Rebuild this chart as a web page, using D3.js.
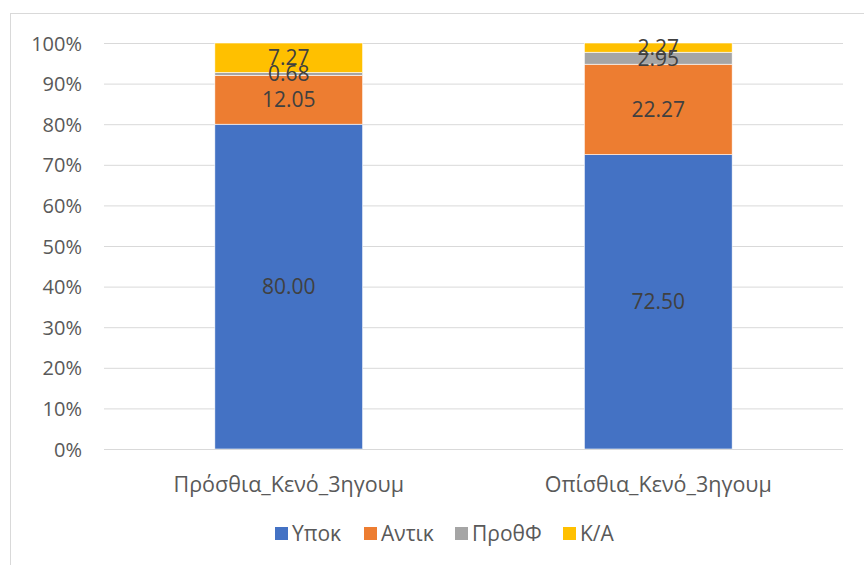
<!DOCTYPE html>
<html>
<head>
<meta charset="utf-8">
<script src="https://cdn.jsdelivr.net/npm/d3@7"></script>
<style>
  html, body { margin: 0; padding: 0; background: #fff; }
  svg { display: block; }
  text { font-family: "Open Sans", "Noto Sans", sans-serif; }
</style>
</head>
<body>
<svg id="chart" width="864" height="565"></svg>
<script>
// Categories and series (percent shares per category)
const categories = ["Πρόσθια_Κενό_3ηγουμ", "Οπίσθια_Κενό_3ηγουμ"];
const seriesNames = ["Υποκ", "Αντικ", "ΠροθΦ", "Κ/Α"];
const seriesColors = ["#4472C4", "#ED7D31", "#A5A5A5", "#FFC000"];
const valuesYpok  = [80.00, 72.50];
const valuesAntik = [12.05, 22.27];
const valuesProth = [0.68, 2.95];
const valuesKA    = [7.27, 2.27];
const yTicks = [0, 0.1, 0.2, 0.3, 0.4, 0.5, 0.6, 0.7, 0.8, 0.9, 1.0];

const seriesValues = [valuesYpok, valuesAntik, valuesProth, valuesKA];

// Table for d3.stack, normalised to 100% per category
const rows = categories.map((c, i) => {
  const r = { category: c };
  seriesNames.forEach((s, k) => { r[s] = seriesValues[k][i]; });
  return r;
});

const svg = d3.select("#chart");
const plot = { left: 104, right: 843, top: 43, bottom: 449 };

// Chart area frame
svg.append("rect")
  .attr("x", 10.5).attr("y", 13.5)
  .attr("width", 900).attr("height", 600)
  .attr("fill", "#fff").attr("stroke", "#D9D9D9").attr("stroke-width", 1);

const x = d3.scaleBand()
  .domain(categories)
  .range([plot.left, plot.right])
  .paddingInner(0.6)
  .paddingOuter(0.3);

const y = d3.scaleLinear().domain([0, 1]).range([plot.bottom, plot.top]);

// Gridlines + tick labels
const yAxis = d3.axisLeft(y)
  .tickValues(yTicks)
  .tickFormat(d3.format(".0%"))
  .tickSize(-(plot.right - plot.left))
  .tickPadding(22);

const gy = svg.append("g")
  .attr("transform", `translate(${plot.left},0)`)
  .call(yAxis);
gy.select(".domain").remove();
gy.selectAll(".tick line").attr("stroke", "#D9D9D9").attr("stroke-width", 1);
gy.selectAll(".tick text")
  .attr("fill", "#595959")
  .style("font-size", "20px")
  .attr("dy", "0.35em");

const stack = d3.stack().keys(seriesNames).offset(d3.stackOffsetExpand);
const stacked = stack(rows);

const layers = svg.append("g").selectAll("g")
  .data(stacked)
  .join("g")
  .attr("fill", (d, i) => seriesColors[i]);

layers.selectAll("rect")
  .data(d => d)
  .join("rect")
  .attr("x", d => x(d.data.category))
  .attr("width", x.bandwidth())
  .attr("y", d => y(d[1]))
  .attr("height", d => y(d[0]) - y(d[1]))
  .attr("stroke", "#fff")
  .attr("stroke-width", 0.6);

// Category axis line
svg.append("line")
  .attr("x1", plot.left).attr("x2", plot.right)
  .attr("y1", plot.bottom + 0.5).attr("y2", plot.bottom + 0.5)
  .attr("stroke", "#D9D9D9").attr("stroke-width", 1);

// Data labels
const labelGroup = svg.append("g");
stacked.forEach((layer) => {
  layer.forEach(d => {
    labelGroup.append("text")
      .attr("x", x(d.data.category) + x.bandwidth() / 2)
      .attr("y", y((d[0] + d[1]) / 2))
      .attr("dy", "0.35em")
      .attr("text-anchor", "middle")
      .attr("fill", "#404040")
      .style("font-size", "21px")
      .text(d3.format(".2f")(d.data[layer.key]));
  });
});

// Category labels
svg.append("g").selectAll("text")
  .data(categories)
  .join("text")
  .attr("x", d => x(d) + x.bandwidth() / 2)
  .attr("y", 484)
  .attr("dy", "0.35em")
  .attr("text-anchor", "middle")
  .attr("fill", "#595959")
  .style("font-size", "21.5px")
  .text(d => d);

// Legend
const legendX = [275, 364, 455, 563];
const legend = svg.append("g").selectAll("g")
  .data(seriesNames)
  .join("g")
  .attr("transform", (d, i) => `translate(${legendX[i]},534)`);
legend.append("rect")
  .attr("x", 0).attr("y", -7)
  .attr("width", 13).attr("height", 13)
  .attr("fill", (d, i) => seriesColors[i]);
legend.append("text")
  .attr("x", 17).attr("y", 0)
  .attr("dy", "0.35em")
  .attr("fill", "#595959")
  .style("font-size", "21px")
  .text(d => d);
</script>
</body>
</html>
